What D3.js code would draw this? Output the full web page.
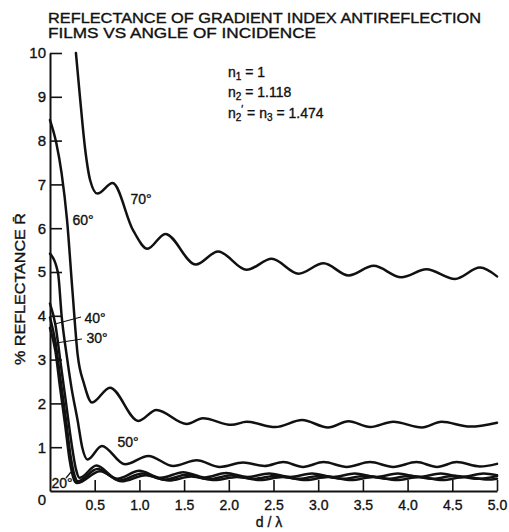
<!DOCTYPE html>
<html>
<head>
<meta charset="utf-8">
<script src="https://cdn.jsdelivr.net/npm/d3@7"></script>
<style>
  html, body { margin: 0; padding: 0; background: #fff; }
  svg { display: block; }
  text { font-family: "Liberation Sans", Arial, sans-serif; fill: #111; stroke: #111; stroke-width: 0.35px; }
</style>
</head>
<body>
<svg id="chart" width="509" height="532"></svg>
<script>
// Reflectance (%) versus film thickness d/λ, one series per angle of incidence
const xTicks = [0.5, 1.0, 1.5, 2.0, 2.5, 3.0, 3.5, 4.0, 4.5, 5.0];
const yTicks = [1, 2, 3, 4, 5, 6, 7, 8, 9, 10];

const r70 = [[0.29,10.0],[0.335,9.0],[0.39,7.86],[0.45,7.09],[0.53,6.79],[0.70,7.03],[0.93,5.95],[1.09,5.53],
  [1.29,5.87],[1.63,5.17],[1.88,5.47],[2.20,5.05],[2.48,5.30],[2.78,4.96],[3.06,5.20],[3.34,4.92],
  [3.62,5.14],[3.93,4.88],[4.21,5.06],[4.53,4.84],[4.81,5.10],[5.0,4.90]];

const r60 = [[0,8.47],[0.07,7.95],[0.13,7.25],[0.19,6.2],[0.25,4.6],[0.31,3.1],[0.38,2.45],[0.47,2.02],
  [0.67,2.36],[0.99,1.60],[1.19,1.85],[1.53,1.53],[1.71,1.66],[2.03,1.51],[2.20,1.58],[2.52,1.46],
  [2.82,1.62],[3.11,1.45],[3.34,1.59],[3.58,1.46],[3.84,1.58],[4.16,1.45],[4.38,1.58],[4.70,1.47],[5.0,1.56]];

const r50 = [[0,5.42],[0.09,4.97],[0.13,4.0],[0.19,3.05],[0.24,2.36],[0.31,1.6],[0.36,1.0],[0.42,0.72],
  [0.58,1.03],[0.84,0.61],[1.10,0.80],[1.38,0.57],[1.64,0.70],[1.90,0.55],[2.16,0.65],[2.40,0.57],
  [2.61,0.66],[2.83,0.55],[3.06,0.66],[3.32,0.55],[3.58,0.66],[3.84,0.55],[4.10,0.66],[4.33,0.55],
  [4.55,0.66],[4.81,0.56],[5.0,0.62]];

const r40 = [[0,4.28],[0.06,3.8],[0.12,2.9],[0.18,2.0],[0.24,1.1],[0.29,0.5],[0.33,0.30],[0.52,0.58],
  [0.75,0.28],[1.00,0.46],[1.24,0.30],[1.49,0.43],[1.73,0.31],[1.97,0.41],[2.21,0.32],[2.45,0.40],
  [2.69,0.32],[2.93,0.40],[3.17,0.32],[3.41,0.40],[3.65,0.32],[3.89,0.40],[4.13,0.32],[4.37,0.40],
  [4.61,0.32],[4.85,0.40],[5.0,0.36]];

const r30 = [[0,3.96],[0.06,3.4],[0.12,2.5],[0.18,1.6],[0.23,0.8],[0.28,0.32],[0.31,0.22],[0.53,0.50],
  [0.78,0.24],[1.03,0.40],[1.28,0.26],[1.53,0.37],[1.78,0.27],[2.03,0.36],[2.28,0.28],[2.53,0.35],
  [2.78,0.28],[3.03,0.35],[3.28,0.28],[3.53,0.35],[3.78,0.28],[4.03,0.35],[4.28,0.28],[4.53,0.35],
  [4.78,0.28],[5.0,0.34]];

const r20 = [[0,3.72],[0.06,3.2],[0.11,2.4],[0.17,1.5],[0.22,0.7],[0.27,0.25],[0.30,0.18],[0.56,0.45],
  [0.80,0.22],[1.07,0.36],[1.33,0.24],[1.58,0.33],[1.84,0.25],[2.09,0.32],[2.35,0.25],[2.60,0.32],
  [2.86,0.25],[3.11,0.32],[3.37,0.25],[3.62,0.32],[3.88,0.25],[4.13,0.32],[4.39,0.25],[4.64,0.32],
  [4.90,0.26],[5.0,0.28]];

const series = [r70, r60, r50, r40, r30, r20];

const svg = d3.select("#chart");
const x = d3.scaleLinear().domain([0, 5]).range([50, 497]);
const y = d3.scaleLinear().domain([0, 10]).range([491, 53]);

// title
const title = svg.append("g").attr("font-size", 14);
title.append("text").attr("x", 48).attr("y", 22.5)
  .attr("textLength", 433).attr("lengthAdjust", "spacingAndGlyphs")
  .text("REFLECTANCE OF GRADIENT INDEX ANTIREFLECTION");
title.append("text").attr("x", 48).attr("y", 38)
  .attr("textLength", 268).attr("lengthAdjust", "spacingAndGlyphs")
  .text("FILMS VS ANGLE OF INCIDENCE");

// axes
const yAxis = d3.axisLeft(y).tickValues(yTicks).tickSize(-12).tickSizeOuter(0).tickPadding(4)
  .tickFormat(d3.format("d"));
const gy = svg.append("g").attr("transform", `translate(${x(0)},0)`).call(yAxis);
gy.selectAll("text").attr("font-size", 15).style("font-family", "Liberation Sans, Arial, sans-serif");

const xAxis = d3.axisBottom(x).tickValues(xTicks).tickSize(-11).tickSizeOuter(0).tickPadding(9)
  .tickFormat(d3.format(".1f"));
const gx = svg.append("g").attr("transform", `translate(0,${y(0)})`).call(xAxis);
gx.selectAll("text").attr("font-size", 14).style("font-family", "Liberation Sans, Arial, sans-serif");

svg.selectAll(".domain").attr("stroke", "#111").attr("stroke-width", 2);
svg.selectAll(".tick line").attr("stroke", "#111").attr("stroke-width", 1.6);

svg.append("text").attr("x", x(0) - 4).attr("y", y(0) + 14).attr("text-anchor", "end")
  .attr("font-size", 15).text("0");

// axis titles
svg.append("text").attr("x", 269).attr("y", 527).attr("text-anchor", "middle")
  .attr("font-size", 14).text("d / λ");
svg.append("text").attr("transform", "translate(25,289) rotate(-90)").attr("text-anchor", "middle")
  .attr("font-size", 14).attr("textLength", 152).attr("lengthAdjust", "spacingAndGlyphs")
  .text("% REFLECTANCE R\u0304");

// curves
const line = d3.line().x(d => x(d[0])).y(d => y(d[1])).curve(d3.curveMonotoneX);
svg.append("g").selectAll("path").data(series).join("path")
  .attr("d", line).attr("fill", "none").attr("stroke", "#111")
  .attr("stroke-width", 2.5).attr("stroke-linejoin", "round").attr("stroke-linecap", "round");

// curve labels
const labels = [["70°", 141, 204], ["60°", 83, 225], ["40°", 95, 323], ["30°", 97, 343],
                ["50°", 128, 447], ["20°", 62, 488]];
svg.append("g").selectAll("text").data(labels).join("text")
  .attr("x", d => d[1]).attr("y", d => d[2]).attr("text-anchor", "middle")
  .attr("font-size", 14).text(d => d[0]);

const leaders = [[55, 324, 81, 317], [56, 343, 82, 339], [66, 478, 71, 472]];
svg.append("g").selectAll("line").data(leaders).join("line")
  .attr("x1", d => d[0]).attr("y1", d => d[1]).attr("x2", d => d[2]).attr("y2", d => d[3])
  .attr("stroke", "#111").attr("stroke-width", 1.2);

// refractive indices
const note = svg.append("g").attr("font-size", 14);
const n1 = note.append("text").attr("x", 228).attr("y", 77);
n1.append("tspan").text("n");
n1.append("tspan").attr("font-size", 10).attr("dy", 3).text("1");
n1.append("tspan").attr("dy", -3).text(" = 1");
const n2 = note.append("text").attr("x", 228).attr("y", 97);
n2.append("tspan").text("n");
n2.append("tspan").attr("font-size", 10).attr("dy", 3).text("2");
n2.append("tspan").attr("dy", -3).text(" = 1.118");
const n3 = note.append("text").attr("x", 228).attr("y", 118);
n3.append("tspan").text("n");
n3.append("tspan").attr("font-size", 10).attr("dy", 3).text("2");
n3.append("tspan").attr("font-size", 10).attr("dy", -8).text("\u2032");
n3.append("tspan").attr("dy", 5).text(" = n");
n3.append("tspan").attr("font-size", 10).attr("dy", 3).text("3");
n3.append("tspan").attr("dy", -3).text(" = 1.474");
</script>
</body>
</html>
